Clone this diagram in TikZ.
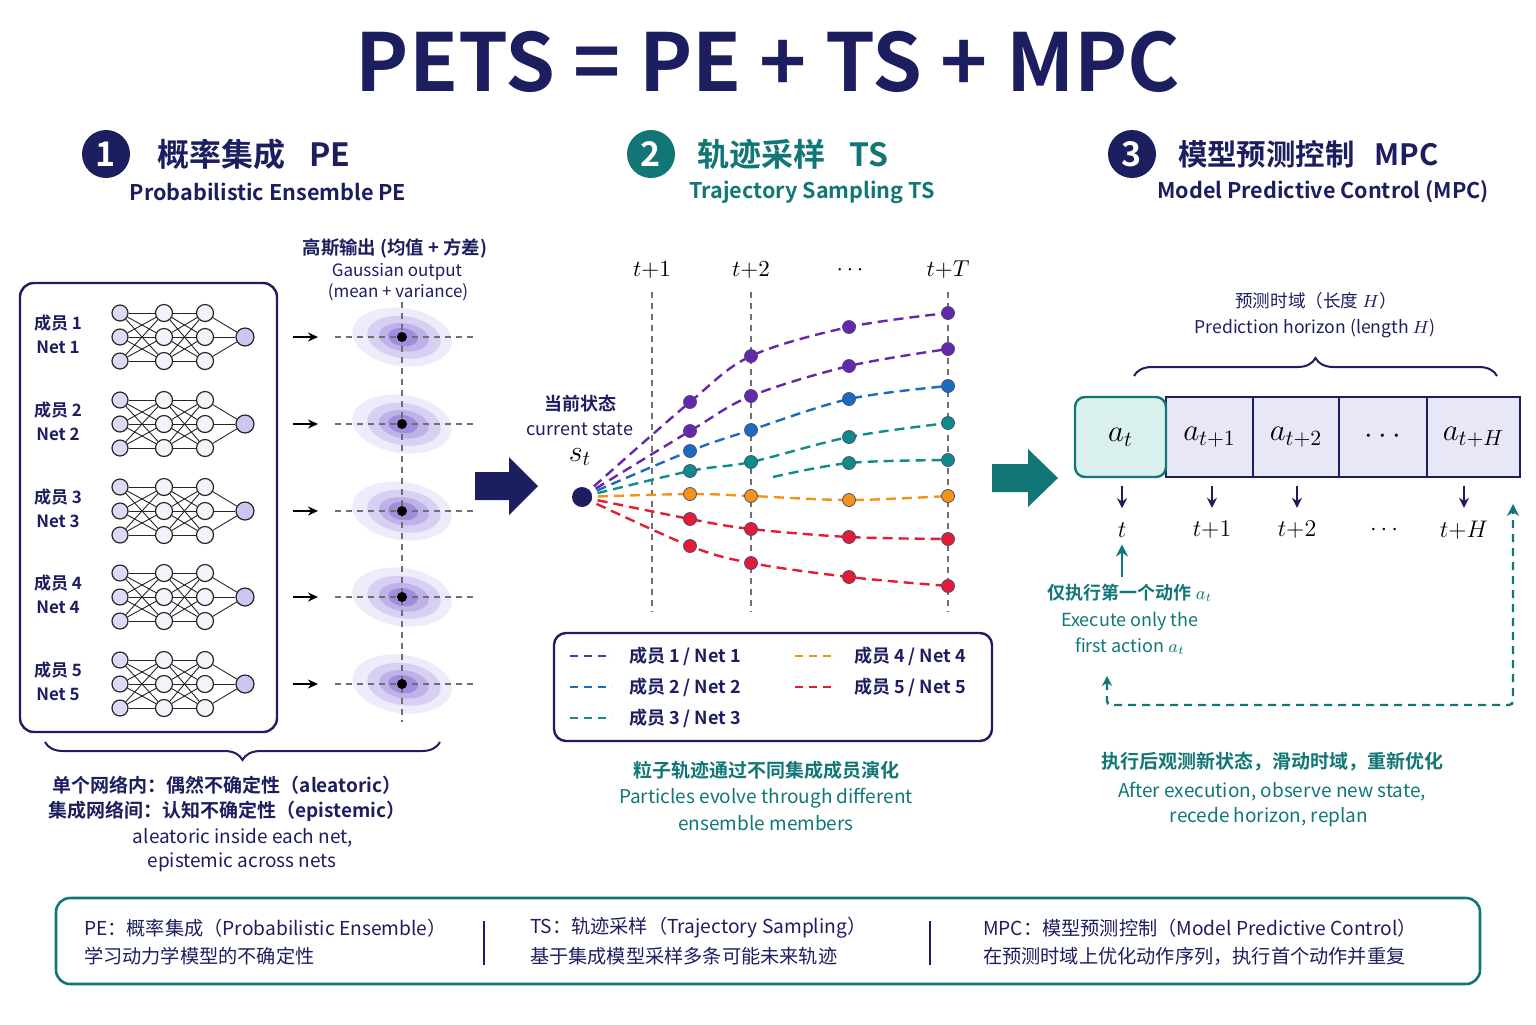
\RequirePackage{fix-cm}
\documentclass[tikz,border=0pt]{standalone}
\usepackage[no-math]{fontspec}
\setmainfont{Noto Sans CJK SC}[BoldFont=* Bold]
\usetikzlibrary{arrows.meta,decorations.pathreplacing}

\definecolor{navy}{RGB}{28,30,96}
\definecolor{tealc}{RGB}{18,118,118}
\definecolor{lavin}{RGB}{222,218,246}
\definecolor{lavhid}{RGB}{244,243,252}
\definecolor{lavout}{RGB}{205,198,240}
\definecolor{lavcell}{RGB}{232,231,248}
\definecolor{mintc}{RGB}{218,240,236}
\definecolor{blobA}{RGB}{238,235,250}
\definecolor{blobB}{RGB}{215,208,243}
\definecolor{blobC}{RGB}{190,178,232}
\definecolor{blobD}{RGB}{160,142,220}
\definecolor{trpurple}{RGB}{102,40,170}
\definecolor{trblue}{RGB}{28,108,190}
\definecolor{trteal}{RGB}{16,140,136}
\definecolor{trorange}{RGB}{245,148,20}
\definecolor{trred}{RGB}{226,28,52}
\definecolor{guidegray}{RGB}{110,110,118}

\begin{document}
\begin{tikzpicture}[x=0.5pt,y=-0.5pt,
  numdot/.style={circle,minimum size=24pt,inner sep=0pt,text=white,font=\fontsize{17}{17}\selectfont\bfseries},
  headcn/.style={anchor=west,font=\fontsize{16}{18}\selectfont\bfseries},
  headen/.style={font=\fontsize{10.8}{13}\selectfont\bfseries},
  lbl/.style={text=navy,font=\fontsize{8.5}{10}\selectfont\bfseries},
  txt/.style={text=navy,font=\fontsize{9.6}{11}\selectfont},
  txtb/.style={text=navy,font=\fontsize{9.5}{11}\selectfont\bfseries},
  neuron/.style={circle,draw=black!85,line width=0.6pt,minimum size=8pt,inner sep=0pt},
  inneuron/.style={neuron,fill=lavin},
  hidneuron/.style={neuron,fill=lavhid,minimum size=8.5pt},
  outneuron/.style={neuron,fill=lavout,minimum size=9pt},
  synapse/.style={black!85,line width=0.45pt},
  guide/.style={guidegray,line width=0.6pt,dash pattern=on 3pt off 2.5pt},
  meandot/.style={circle,fill=black,minimum size=5pt,inner sep=0pt},
  trajline/.style={line width=1.2pt,dash pattern=on 5pt off 3pt},
  tdot/.style={circle,draw=navy!80,line width=0.4pt,minimum size=6.5pt,inner sep=0pt},
  cell/.style={draw=navy,line width=0.8pt,fill=lavcell,minimum height=40pt,inner sep=0pt,font=\fontsize{15.5}{15.5}\selectfont},
  tlabel/.style={font=\fontsize{12}{14}\selectfont},
  fbline/.style={tealc,line width=1.2pt,dash pattern=on 4pt off 3pt},
  bigbrace/.style={decorate,navy,line width=1pt}]
\useasboundingbox (0,0) rectangle (1536,1024);

% title
\node[font=\fontsize{40}{44}\selectfont\bfseries,text=navy] (title) at (768,62) {PETS = PE + TS + MPC};

% section headings
\node[numdot,fill=navy] (num1) at (106,154) {1};
\node[headcn,text=navy] (head1) at (150,154) {概率集成\hspace{12pt}PE};
\node[headen,text=navy] (sub1) at (268,192) {Probabilistic Ensemble PE};
\node[numdot,fill=tealc] (num2) at (651,154) {2};
\node[headcn,text=tealc] (head2) at (690,154) {轨迹采样\hspace{12pt}TS};
\node[headen,text=tealc] (sub2) at (812,192) {Trajectory Sampling TS};
\node[numdot,fill=navy] (num3) at (1132,154) {3};
\node[headcn,text=navy,font=\fontsize{14.7}{18}\selectfont\bfseries] (head3) at (1171,154) {模型预测控制\hspace{10pt}MPC};
\node[headen,text=navy] (sub3) at (1323,192) {Model Predictive Control (MPC)};

% ---------------- PE ----------------
\node[draw=navy,line width=1.2pt,rounded corners=7pt,minimum width=128.5pt,minimum height=224.5pt] (ensbox) at (148.5,507.5) {};
\node[txtb,font=\fontsize{9.2}{11}\selectfont\bfseries] (gauss1) at (395,248) {高斯输出 (均值 + 方差)};
\node[txt,font=\fontsize{8.5}{10}\selectfont] (gauss2) at (397,272) {Gaussian output};
\node[txt,font=\fontsize{8.5}{10}\selectfont] (gauss3) at (398,292) {(mean + variance)};

\foreach \r/\y in {1/337,2/424,3/511,4/597,5/684}{
  \node[lbl] (m\r) at (58,\y-14) {成员 \r};
  \node[lbl] (net\r) at (58,\y+10) {Net \r};
  \foreach \i/\d in {1/-24,2/0,3/24}{
    \node[inneuron] (a\r\i) at (120,\y+\d) {};
    \node[hidneuron] (b\r\i) at (164,\y+\d) {};
    \node[hidneuron] (c\r\i) at (205,\y+\d) {};
  }
  \node[outneuron] (o\r) at (245,\y) {};
  \foreach \i in {1,2,3}{
    \draw[synapse] (c\r\i) -- (o\r);
    \foreach \j in {1,2,3}{
      \draw[synapse] (a\r\i) -- (b\r\j);
      \draw[synapse] (b\r\i) -- (c\r\j);
    }
  }
  % gaussian output
  \begin{scope}[shift={(402,\y)},rotate=-8]
    \fill[blobA] (0,0) ellipse (50 and 29);
    \fill[blobB] (2,0) ellipse (37 and 21);
    \fill[blobC] (2,0) ellipse (25 and 14);
    \fill[blobD] (1,0) ellipse (15 and 9);
  \end{scope}
}
\draw[guide] (402,302) -- (402,722);
\foreach \r/\y in {1/337,2/424,3/511,4/597,5/684}{
  \draw[guide] (335,\y) -- (473,\y);
  \node[meandot] (mu\r) at (402,\y) {};
  \coordinate (in\r) at (293,\y);
  \coordinate (to\r) at (318,\y);
  \draw[-{Stealth[length=5pt,width=4.5pt]},line width=0.9pt] (in\r) -- (to\r);
}

% brace + uncertainty text
\draw[bigbrace,decoration={brace,amplitude=9pt}] (440,742) -- (45,742);
\node[txtb] (unc1) at (227,785) {单个网络内：偶然不确定性（aleatoric）};
\node[txtb] (unc2) at (227,811) {集成网络间：认知不确定性（epistemic）};
\node[txt,font=\fontsize{9.5}{11}\selectfont] (unc3) at (243,838) {aleatoric inside each net,};
\node[txt,font=\fontsize{9.5}{11}\selectfont] (unc4) at (242,862) {epistemic across nets};

% big arrows
\fill[navy] (475,472) -- (509,472) -- (509,457) -- (538,486) -- (509,515) -- (509,500) -- (475,500) -- cycle;
\fill[tealc] (992,464) -- (1028,464) -- (1028,449) -- (1058,478) -- (1028,507) -- (1028,492) -- (992,492) -- cycle;

% ---------------- TS ----------------
\foreach \nm/\x/\tx in {k1/652/$t{+}1$,k2/751/$t{+}2$,k3/850/$\cdots$,k4/948/$t{+}T$}{
  \node[font=\fontsize{11.5}{12}\selectfont] (\nm) at (\x,270) {\tx};
}
\foreach \x in {652,751,948}{
  \draw[guide] (\x,292) -- (\x,612);
}
\node[txtb,font=\fontsize{9}{11}\selectfont\bfseries] (cur1) at (580,404) {当前状态};
\node[txt,font=\fontsize{9}{11}\selectfont] (cur2) at (580,429) {current state};
\node[font=\fontsize{15}{16}\selectfont] (cur3) at (580,457) {$s_t$};
\coordinate (s0) at (582,497);

\foreach \nm/\col/\ya/\yb/\yc/\yd in {p1/trpurple/402/356/327/313,p2/trpurple/431/396/366/349,p3/trblue/451/430/399/386,p4/trteal/471/462/437/423,p6/trorange/494/496/500/496,p7/trred/519/529/537/539,p8/trred/546/563/577/586}{
  \draw[trajline,\col] plot[smooth,tension=0.55] coordinates {(s0) (690,\ya) (751,\yb) (849,\yc) (948,\yd)};
  \node[tdot,fill=\col] (\nm a) at (690,\ya) {};
  \node[tdot,fill=\col] (\nm b) at (751,\yb) {};
  \node[tdot,fill=\col] (\nm c) at (849,\yc) {};
  \node[tdot,fill=\col] (\nm d) at (948,\yd) {};
}
\coordinate (p5s) at (773,477);
\draw[trajline,trteal] plot[smooth,tension=0.55] coordinates {(p5s) (849,463) (948,460)};
\node[tdot,fill=trteal] (p5c) at (849,463) {};
\node[tdot,fill=trteal] (p5d) at (948,460) {};
\node[circle,fill=navy,minimum size=10pt,inner sep=0pt] (st) at (s0) {};

% legend
\node[draw=navy,line width=1.2pt,rounded corners=6pt,minimum width=219pt,minimum height=54pt] (legend) at (773,687) {};
\foreach \nm/\col/\x/\y/\tx in {g1/trpurple/570/656/{成员 1 / Net 1},g2/trblue/570/687/{成员 2 / Net 2},g3/trteal/570/718/{成员 3 / Net 3},g4/trorange/795/656/{成员 4 / Net 4},g5/trred/795/687/{成员 5 / Net 5}}{
  \coordinate (\nm s) at (\x,\y);
  \coordinate (\nm e) at (\x+42,\y);
  \draw[\col,line width=1.2pt,dash pattern=on 4pt off 3pt] (\nm s) -- (\nm e);
  \node[lbl,anchor=west,font=\fontsize{9}{11}\selectfont\bfseries] (\nm t) at (\x+52,\y) {\tx};
}
\node[text=tealc,font=\fontsize{9.5}{11}\selectfont\bfseries] (ts1) at (766,770) {粒子轨迹通过不同集成成员演化};
\node[text=tealc,font=\fontsize{9.5}{11}\selectfont] (ts2) at (766,798) {Particles evolve through different};
\node[text=tealc,font=\fontsize{9.5}{11}\selectfont] (ts3) at (766,823) {ensemble members};

% ---------------- MPC ----------------
\node[txt,font=\fontsize{8.8}{11}\selectfont] (hor1) at (1316,301) {预测时域（长度 $H$）};
\node[txt,font=\fontsize{8.8}{11}\selectfont] (hor2) at (1315,328) {Prediction horizon (length $H$)};
\draw[bigbrace,decoration={brace,amplitude=9pt}] (1134,376) -- (1497,376);

\node[cell,minimum width=43.5pt] (c1) at (1209.5,437) {$a_{t+1}$};
\node[cell,minimum width=43pt] (c2) at (1296,437) {$a_{t+2}$};
\node[cell,minimum width=44pt] (c3) at (1383,437) {$\cdots$};
\node[cell,minimum width=46.5pt] (c4) at (1473.5,437) {$a_{t+H}$};
\node[cell,draw=tealc,fill=mintc,line width=1.2pt,rounded corners=5pt,minimum width=45.5pt] (c0) at (1120.5,437) {$a_t$};

\node[tlabel] (l0) at (1122,530) {$t$};
\node[tlabel] (l1) at (1212,530) {$t{+}1$};
\node[tlabel] (l2) at (1297,530) {$t{+}2$};
\node[tlabel] (l3) at (1384,530) {$\cdots$};
\node[tlabel] (l4) at (1464,530) {$t{+}H$};
\foreach \c/\l in {c0/l0,c1/l1,c2/l2,c4/l4}{
  \draw[-{Stealth[length=5pt,width=5pt]},navy,line width=1pt,shorten <=4pt] (\l |- \c.south) -- ++(0,30);
}

\node[text=tealc,font=\fontsize{9}{11}\selectfont\bfseries] (ex1) at (1130,593) {仅执行第一个动作 $a_t$};
\node[text=tealc,font=\fontsize{9}{11}\selectfont] (ex2) at (1130,621) {Execute only the};
\node[text=tealc,font=\fontsize{9}{11}\selectfont] (ex3) at (1130,646) {first action $a_t$};
\draw[-{Stealth[length=6pt,width=6pt]},tealc,line width=1.4pt] (l0 |- ex1.north) -- (l0.south);

\coordinate (fb1) at (1107,676);
\coordinate (fb2) at (1107,705);
\coordinate (fb3) at (1513,705);
\coordinate (fb4) at (1513,504);
\draw[fbline,{Stealth[length=5pt,width=5pt]}-{Stealth[length=6pt,width=6pt]},rounded corners=2pt] (fb1) -- (fb2) -- (fb3) -- (fb4);

\node[text=tealc,font=\fontsize{9.5}{11}\selectfont\bfseries] (mp1) at (1272,762) {执行后观测新状态，滑动时域，重新优化};
\node[text=tealc,font=\fontsize{9.5}{11}\selectfont] (mp2) at (1272,792) {After execution, observe new state,};
\node[text=tealc,font=\fontsize{9.5}{11}\selectfont] (mp3) at (1269,817) {recede horizon, replan};

% ---------------- summary box ----------------
\node[draw=tealc,line width=1.3pt,rounded corners=7pt,minimum width=712pt,minimum height=43pt] (summary) at (768,941) {};
\node[txt,anchor=west] (sa1) at (77,928) {PE：概率集成（Probabilistic Ensemble）};
\node[txt,anchor=west] (sa2) at (77,956) {学习动力学模型的不确定性};
\node[txt,anchor=west] (sb1) at (523,928) {TS：轨迹采样（Trajectory Sampling）};
\node[txt,anchor=west] (sb2) at (523,956) {基于集成模型采样多条可能未来轨迹};
\node[txt,anchor=west] (sc1) at (976,928) {MPC：模型预测控制（Model Predictive Control）};
\node[txt,anchor=west] (sc2) at (976,956) {在预测时域上优化动作序列，执行首个动作并重复};
\coordinate (sep1t) at (484,921);
\coordinate (sep1b) at (484,965);
\coordinate (sep2t) at (930,921);
\coordinate (sep2b) at (930,965);
\draw[navy,line width=0.9pt] (sep1t) -- (sep1b);
\draw[navy,line width=0.9pt] (sep2t) -- (sep2b);
\end{tikzpicture}
\end{document}
